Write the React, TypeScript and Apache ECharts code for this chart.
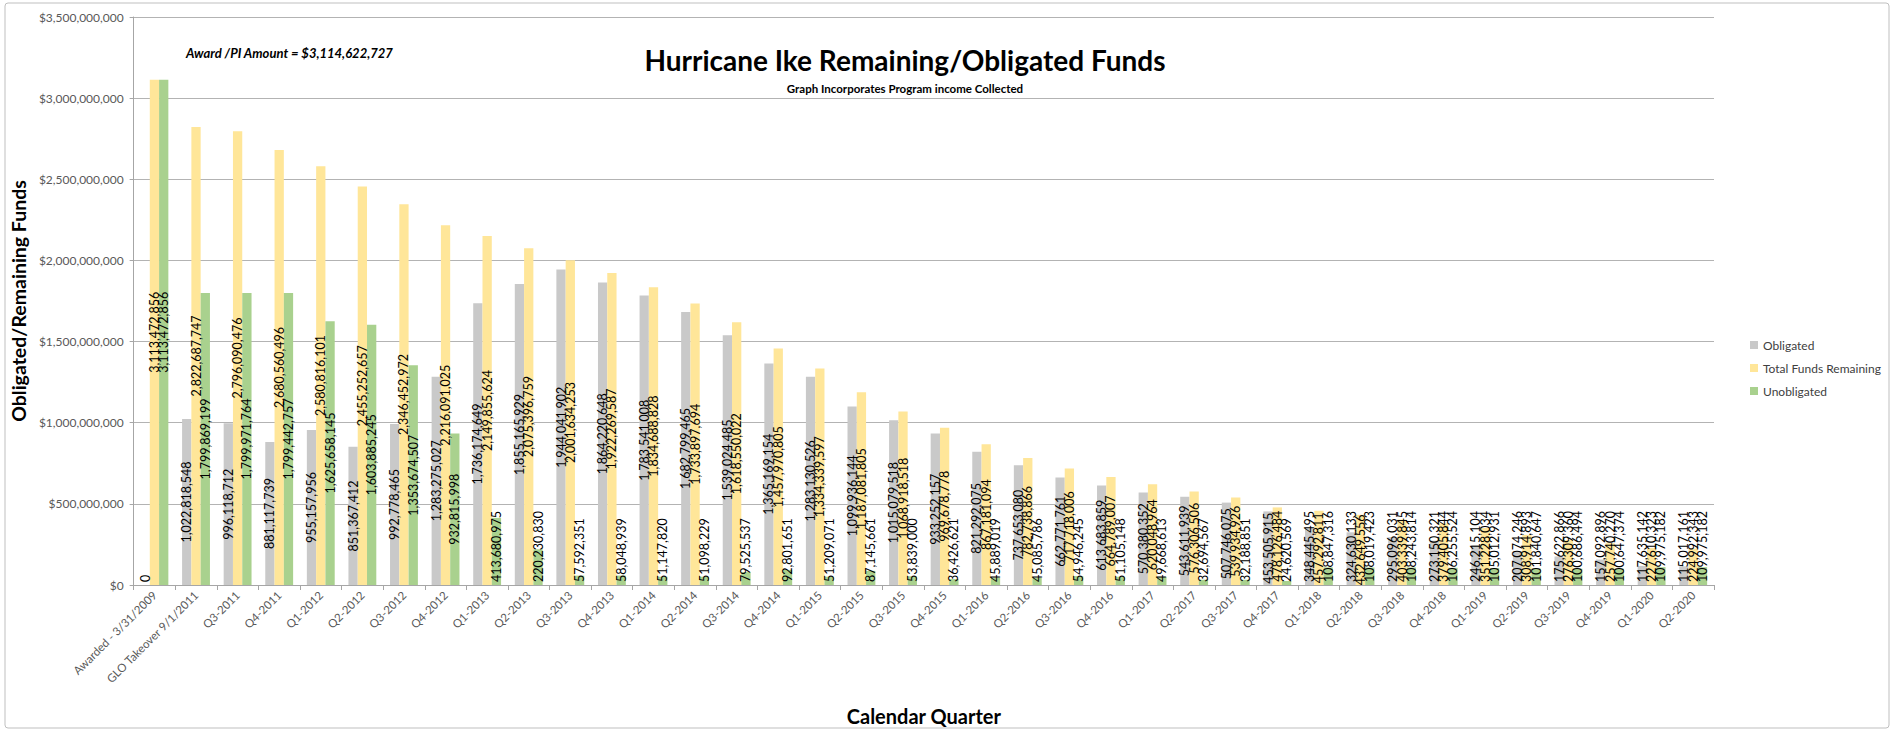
import React, { useEffect, useRef } from "react";
import * as echarts from "echarts";

const categories = [
  "Awarded - 3/31/2009", "GLO Takeover 9/1/2011", "Q3-2011", "Q4-2011",
  "Q1-2012", "Q2-2012", "Q3-2012", "Q4-2012",
  "Q1-2013", "Q2-2013", "Q3-2013", "Q4-2013",
  "Q1-2014", "Q2-2014", "Q3-2014", "Q4-2014",
  "Q1-2015", "Q2-2015", "Q3-2015", "Q4-2015",
  "Q1-2016", "Q2-2016", "Q3-2016", "Q4-2016",
  "Q1-2017", "Q2-2017", "Q3-2017", "Q4-2017",
  "Q1-2018", "Q2-2018", "Q3-2018", "Q4-2018",
  "Q1-2019", "Q2-2019", "Q3-2019", "Q4-2019",
  "Q1-2020", "Q2-2020",
];

const obligated = [
  0, 1022818548, 996118712, 881117739,
  955157956, 851367412, 992778465, 1283275027,
  1736174649, 1855165929, 1944041902, 1864220648,
  1783541008, 1682799465, 1539024485, 1365169154,
  1283130526, 1099936144, 1015079518, 933252157,
  821292075, 737653080, 662771761, 613683859,
  570380352, 543611939, 507746075, 453505915,
  348445495, 324630133, 295096031, 273150321,
  246215104, 207074246, 175622866, 157092896,
  117635142, 115017161,
];

const totalRemaining = [
  3113472856, 2822687747, 2796090476, 2680560496,
  2580816101, 2455252657, 2346452972, 2216091025,
  2149855624, 2075396759, 2001634253, 1922269587,
  1834688828, 1733897694, 1618550022, 1457970805,
  1334339597, 1187081805, 1068918518, 969678778,
  867181094, 782738866, 717718006, 664789007,
  620048964, 576306506, 539934926, 478126484,
  457292811, 432649556, 403339845, 379405844,
  351228034, 308914893, 276309360, 257740270,
  227610323, 224992343,
];

const unobligated = [
  3113472856, 1799869199, 1799971764, 1799442757,
  1625658145, 1603885245, 1353674507, 932815998,
  413680975, 220230830, 57592351, 58048939,
  51147820, 51098229, 79525537, 92801651,
  51209071, 87145661, 53839000, 36426621,
  45889019, 45085786, 54946245, 51105148,
  49668613, 32694567, 32188851, 24620569,
  108847316, 108019423, 108243814, 106255524,
  105012931, 101840647, 100686494, 100647374,
  109975182, 109975182,
];

const seriesNames = ["Obligated", "Total Funds Remaining", "Unobligated"];
const seriesColors = ["#C9C9C9", "#FFE699", "#A9D18E"];

const AXIS_MAX = 3500000000;
const AXIS_STEP = 500000000;
const LABEL_BASE_THRESHOLD = 420000000;

const FONT = "Lato, 'Noto Sans', sans-serif";

const fmt = (v: number) => v.toLocaleString("en-US");

function buildData(values: number[]) {
  return values.map((v) => {
    const atBase = v < LABEL_BASE_THRESHOLD;
    return {
      value: v,
      label: atBase
        ? { position: "insideBottom", align: "left", verticalAlign: "middle", distance: 3 }
        : { position: "inside", align: "center", verticalAlign: "middle" },
    };
  });
}

export default function App() {
  const ref = useRef<HTMLDivElement>(null);

  useEffect(() => {
    if (!ref.current) return;
    const chart = echarts.init(ref.current, null, { renderer: "svg" });
    const valueSets = [obligated, totalRemaining, unobligated];
    chart.setOption({
      animation: false,
      backgroundColor: "#ffffff",
      textStyle: { fontFamily: FONT },
      grid: { left: 133, right: 178, top: 17, bottom: 148 },
      legend: {
        orient: "vertical",
        left: 1745,
        top: 334,
        itemWidth: 8,
        itemHeight: 8,
        itemGap: 11,
        icon: "rect",
        data: seriesNames,
        textStyle: { fontFamily: FONT, fontSize: 12, color: "#404040" },
      },
      graphic: [
        {
          type: "rect",
          shape: { x: 5, y: 3, width: 1884, height: 725, r: 3 },
          style: { fill: "none", stroke: "#bfbfbf", lineWidth: 1 },
          silent: true,
        },
        {
          type: "text",
          x: 905,
          y: 60,
          style: {
            text: "Hurricane Ike Remaining/Obligated Funds",
            fontFamily: FONT,
            fontSize: 28,
            fontWeight: "bold",
            fill: "#000000",
            align: "center",
            verticalAlign: "middle",
          },
        },
        {
          type: "text",
          x: 905,
          y: 88,
          style: {
            text: "Graph Incorporates Program income Collected",
            fontFamily: FONT,
            fontSize: 11.5,
            fontWeight: "bold",
            fill: "#000000",
            align: "center",
            verticalAlign: "middle",
          },
        },
        {
          type: "text",
          x: 186,
          y: 53,
          style: {
            text: "Award /PI Amount = $3,114,622,727",
            fontFamily: FONT,
            fontSize: 13,
            fontWeight: "bold",
            fontStyle: "italic",
            fill: "#000000",
            align: "left",
            verticalAlign: "middle",
          },
        },
      ],
      xAxis: {
        type: "category",
        data: categories,
        name: "Calendar Quarter",
        nameLocation: "middle",
        nameGap: 121,
        nameTextStyle: { fontFamily: FONT, fontSize: 20, fontWeight: "bold", color: "#000000" },
        axisLine: { show: true, lineStyle: { color: "#a6a6a6", width: 1 } },
        axisTick: { show: true, alignWithLabel: false, length: 5, lineStyle: { color: "#a6a6a6" } },
        axisLabel: {
          interval: 0,
          rotate: 45,
          fontFamily: FONT,
          fontSize: 11.5,
          color: "#595959",
          margin: 8,
        },
      },
      yAxis: {
        type: "value",
        min: 0,
        max: AXIS_MAX,
        interval: AXIS_STEP,
        name: "Obligated/Remaining Funds",
        nameLocation: "middle",
        nameGap: 102,
        nameTextStyle: { fontFamily: FONT, fontSize: 19.5, fontWeight: "bold", color: "#000000" },
        axisLine: { show: true, lineStyle: { color: "#a6a6a6", width: 1 } },
        axisTick: { show: true, length: 4, lineStyle: { color: "#a6a6a6" } },
        splitLine: { show: true, lineStyle: { color: "#b3b3b3", width: 1 } },
        axisLabel: {
          fontFamily: FONT,
          fontSize: 12,
          color: "#595959",
          margin: 10,
          formatter: (v: number) => "$" + fmt(v),
        },
      },
      series: valueSets.map((vals, i) => ({
        name: seriesNames[i],
        type: "bar",
        barGap: "0%",
        barCategoryGap: "33%",
        itemStyle: { color: seriesColors[i] },
        data: buildData(vals),
        z: 2,
        label: {
          show: true,
          rotate: 90,
          fontFamily: FONT,
          fontSize: 12.5,
          color: "#000000",
          formatter: (p: any) => fmt(p.value),
        },
        labelLayout: { hideOverlap: false },
      })),
    });
    return () => chart.dispose();
  }, []);

  return (
    <div
      ref={ref}
      style={{ position: "fixed", left: 0, top: 0, width: 1892, height: 733 }}
    />
  );
}
